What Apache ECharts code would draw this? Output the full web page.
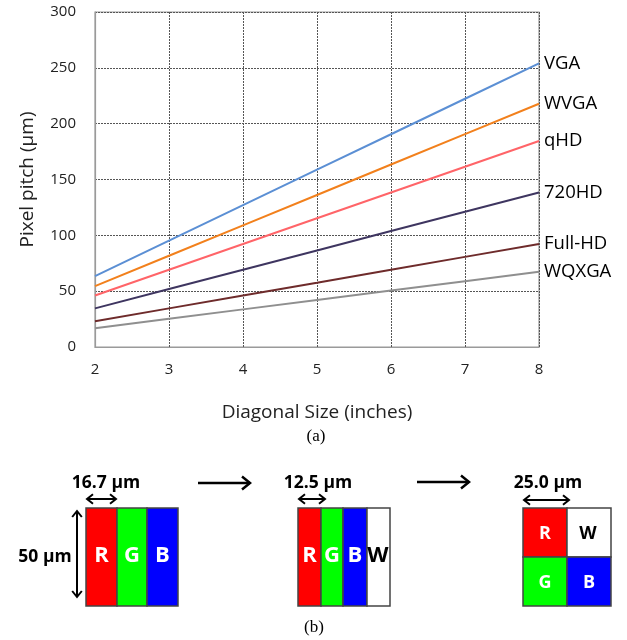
<!DOCTYPE html>
<html>
<head>
<meta charset="utf-8">
<script src="https://cdn.jsdelivr.net/npm/echarts@6/dist/echarts.min.js"></script>
<style>
  html, body { margin: 0; padding: 0; background: #fff; }
  #main { width: 627px; height: 640px; }
</style>
</head>
<body>
<div id="main"></div>
<script>
// diagonal sizes (inches)
const diagonal = [2, 3, 4, 5, 6, 7, 8];
// pixel pitch (um)
const vga    = [63.5, 95.3, 127.0, 158.8, 190.5, 222.3, 254.0];
const wvga   = [54.5, 81.7, 108.9, 136.1, 163.4, 190.6, 217.8];
const qhd    = [46.1, 69.2, 92.2, 115.3, 138.4, 161.4, 184.5];
const hd720  = [34.6, 51.9, 69.2, 86.5, 103.8, 121.1, 138.4];
const fullhd = [23.1, 34.6, 46.1, 57.6, 69.2, 80.7, 92.2];
const wqxga  = [16.8, 25.2, 33.7, 42.1, 50.5, 58.9, 67.3];

const seriesNames  = ['VGA', 'WVGA', 'qHD', '720HD', 'Full-HD', 'WQXGA'];
const seriesValues = [vga, wvga, qhd, hd720, fullhd, wqxga];
const seriesColors = ['#5b8fd4', '#f2801c', '#ff6468', '#3e3560', '#6e2b2b', '#8f8f8f'];

const FONT = 'Open Sans';

const chart = echarts.init(document.getElementById('main'));

// --- little drawing helpers for panel (b) ---
function seg(x1, y1, x2, y2, w) {
  return { type: 'line', shape: { x1, y1, x2, y2 }, style: { stroke: '#000', lineWidth: w } };
}
function head(x, y, dx, dy, size, w) {
  // open chevron pointing in direction (dx,dy)
  const px = -dy, py = dx;
  return {
    type: 'polyline',
    shape: { points: [[x - dx * size + px * size * 0.8, y - dy * size + py * size * 0.8], [x, y],
                      [x - dx * size - px * size * 0.8, y - dy * size - py * size * 0.8]] },
    style: { stroke: '#000', lineWidth: w, fill: null }
  };
}
function dblH(x1, x2, y) {
  return [seg(x1, y, x2, y, 2), head(x1, y, -1, 0, 6, 2), head(x2, y, 1, 0, 6, 2)];
}
function arrowR(x1, x2, y) {
  return [seg(x1, y, x2, y, 2.5), head(x2, y, 1, 0, 8, 2.5)];
}
function cell(x, y, w, h, fill) {
  return { type: 'rect', shape: { x, y, width: w, height: h }, style: { fill, stroke: '#444', lineWidth: 1.5 } };
}
function letter(x, y, t, color, size) {
  return { type: 'text', x, y, style: { text: t, fill: color, font: 'bold ' + size + 'px ' + FONT, align: 'center', verticalAlign: 'middle' } };
}
function label(x, y, t) {
  return { type: 'text', x, y, style: { text: t, fill: '#000', font: 'bold 17.5px ' + FONT, align: 'center', verticalAlign: 'middle' } };
}

const RED = '#ff0000', GREEN = '#00ff00', BLUE = '#0000ff', WHITE = '#ffffff';

const graphics = [].concat(
  // captions
  [{ type: 'text', x: 316, y: 437, style: { text: '(a)', fill: '#000', font: '17px "Liberation Serif"', align: 'center', verticalAlign: 'middle' } },
   { type: 'text', x: 314, y: 628, style: { text: '(b)', fill: '#000', font: '17px "Liberation Serif"', align: 'center', verticalAlign: 'middle' } }],
  // RGB stripe
  [cell(86, 508, 31, 98, RED), cell(117, 508, 30, 98, GREEN), cell(147, 508, 31, 98, BLUE),
   letter(101.5, 556, 'R', WHITE, 22), letter(132, 556, 'G', WHITE, 22), letter(162.5, 556, 'B', WHITE, 22),
   label(106, 483, '16.7 μm'), label(45, 557, '50 μm')],
  dblH(87, 116, 499),
  [seg(77, 511, 77, 597, 2), head(77, 511, 0, -1, 6, 2), head(77, 597, 0, 1, 6, 2)],
  arrowR(198, 250, 483),
  // RGBW stripe
  [cell(298, 508, 23, 98, RED), cell(321, 508, 22, 98, GREEN), cell(343, 508, 24, 98, BLUE), cell(367, 508, 23, 98, WHITE),
   letter(309.5, 556, 'R', WHITE, 22), letter(332, 556, 'G', WHITE, 22), letter(355, 556, 'B', WHITE, 22), letter(378, 556, 'W', '#000', 22),
   label(318, 483, '12.5 μm')],
  dblH(299, 325, 499),
  arrowR(417, 469, 482),
  // RGBW square
  [cell(523, 508, 44, 49, RED), cell(567, 508, 44, 49, WHITE), cell(523, 557, 44, 49, GREEN), cell(567, 557, 44, 49, BLUE),
   letter(545, 534, 'R', WHITE, 18), letter(588, 534, 'W', '#000', 18), letter(545, 583, 'G', WHITE, 18), letter(589, 583, 'B', WHITE, 18),
   label(548, 483, '25.0 μm')],
  dblH(524, 569, 500)
);

const option = {
  backgroundColor: '#fff',
  animation: false,
  grid: { left: 95, right: 88, top: 12, bottom: 293, show: true, borderColor: '#9a9a9a', borderWidth: 1.2 },
  xAxis: {
    type: 'value', min: 2, max: 8, interval: 1,
    name: 'Diagonal Size (inches)', nameLocation: 'middle', nameGap: 56,
    nameTextStyle: { fontFamily: FONT, fontSize: 19, color: '#222' },
    axisLine: { show: true, lineStyle: { color: '#9a9a9a', width: 1.2 } },
    axisTick: { show: false },
    axisLabel: { margin: 15, fontFamily: FONT, fontSize: 15, color: '#222' },
    splitLine: { show: true, lineStyle: { color: '#555', type: [2, 1], width: 1 } }
  },
  yAxis: {
    type: 'value', min: 0, max: 300, interval: 50,
    name: 'Pixel pitch (μm)', nameLocation: 'middle', nameGap: 58,
    nameTextStyle: { fontFamily: FONT, fontSize: 19, color: '#222' },
    axisLine: { show: true, lineStyle: { color: '#9a9a9a', width: 1.2 } },
    axisTick: { show: false },
    axisLabel: { margin: 19, fontFamily: FONT, fontSize: 15, color: '#222' },
    splitLine: { show: true, lineStyle: { color: '#555', type: [2, 1], width: 1 } }
  },
  series: seriesNames.map((name, i) => ({
    name,
    type: 'line',
    data: diagonal.map((d, j) => [d, seriesValues[i][j]]),
    showSymbol: false,
    lineStyle: { color: seriesColors[i], width: 2 },
    itemStyle: { color: seriesColors[i] },
    endLabel: { show: true, formatter: '{a}', distance: 5, fontFamily: FONT, fontSize: 18.5, color: '#000' },
    z: 3
  })),
  graphic: graphics
};

chart.setOption(option);
</script>
</body>
</html>
